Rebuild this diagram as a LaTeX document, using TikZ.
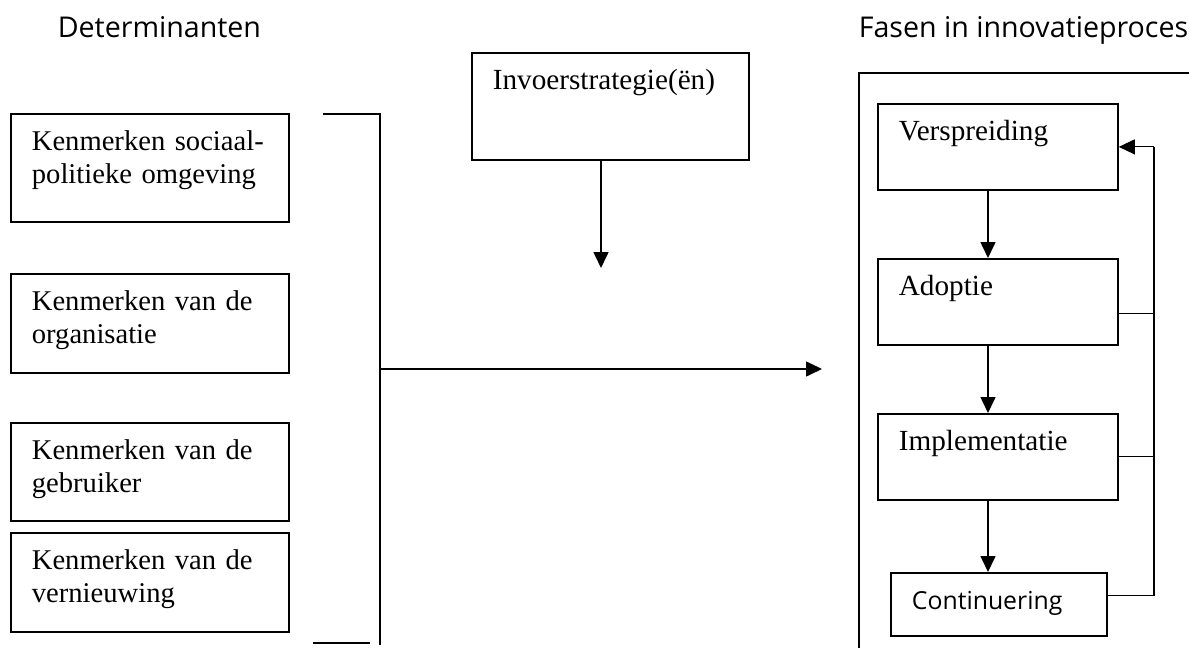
\documentclass[tikz,border=0pt]{standalone}
\usepackage{fontspec}
\setmainfont{Liberation Serif}
\newfontfamily\headfont{Open Sans}
\usetikzlibrary{arrows.meta}

\begin{document}
\begin{tikzpicture}[x=0.5pt,y=-0.5pt,line width=0.8pt,
    box/.style={draw, line width=0.9pt, anchor=north west, inner xsep=10.5pt,
        inner ysep=0pt, text height=18.5pt, align=left,
        font=\fontsize{14.6}{16.5}\selectfont},
    head/.style={anchor=base west, inner sep=0pt, font=\headfont\fontsize{14.3}{18}\selectfont},
    arr/.style={-{Triangle[length=8pt,width=7.5pt]}},
    back/.style={line width=0.55pt}]

        \useasboundingbox (0,0) rectangle (1189,648);
        \clip (0,0) rectangle (1189,648);

        % Headings
        \node[head] (head-det) at (57,38) {Determinanten};
        \node[head] (head-fase) at (858,38) {Fasen in innovatieproces};

        % Determinants
        \foreach \i/\y/\d/\txt in {1/113/35.5/{Kenmerken sociaal-\\politieke omgeving},
                                   2/273/31/{Kenmerken van de\\organisatie},
                                   3/422/30.5/{Kenmerken van de\\gebruiker},
                                   4/532/31/{Kenmerken van de\\vernieuwing}} {
            \node[box, text width=118pt, text depth=\d pt,
                font=\fontsize{14.3}{16.5}\selectfont] (det-\i) at (10,\y) {\txt};
        }
        \draw (323,114) -| (380,645);
        \draw (313,643) -- (370,643);
        \coordinate (br-mid) at (380,369);
        \coordinate (main-end) at (822,369);
        \draw[arr] (br-mid) -- (main-end);

        % Strategy
        \node[box, text width=117.5pt, text depth=35pt] (inv) at (471,52) {Invoerstrategie(ën)};
        \coordinate (inv-end) at (601,268);
        \draw[arr] (inv.south -| inv-end) -- (inv-end);

        % Phases
        \draw (859,700) |- (1260,73);
        \foreach \n/\y/\txt in {ver/103/Verspreiding, ado/258/Adoptie, imp/413/Implementatie} {
            \node[box, text width=99pt, text depth=24.5pt] (\n) at (877,\y) {\txt};
        }
        \node[box, text width=87pt, text depth=13pt,
            font=\headfont\fontsize{12.4}{16}\selectfont] (cont) at (890,572) {Continuering};

        \coordinate (col) at (988,0);
        \foreach \a/\b in {ver/ado, ado/imp, imp/cont} {
            \draw[arr] (\a.south -| col) -- (\b.north -| col);
        }

        % Feedback
        \coordinate (fb) at (1154,0);
        \draw[back] ([yshift=-6pt]ado.east) -- ([yshift=-6pt]ado.east -| fb);
        \draw[back] (imp.east) -- (imp.east -| fb);
        \draw[back] ([yshift=4.25pt]cont.east) -| (fb |- ver.east);
        \draw[back, arr] (fb |- ver.east) -- (ver.east);

    \end{tikzpicture}
\end{document}
